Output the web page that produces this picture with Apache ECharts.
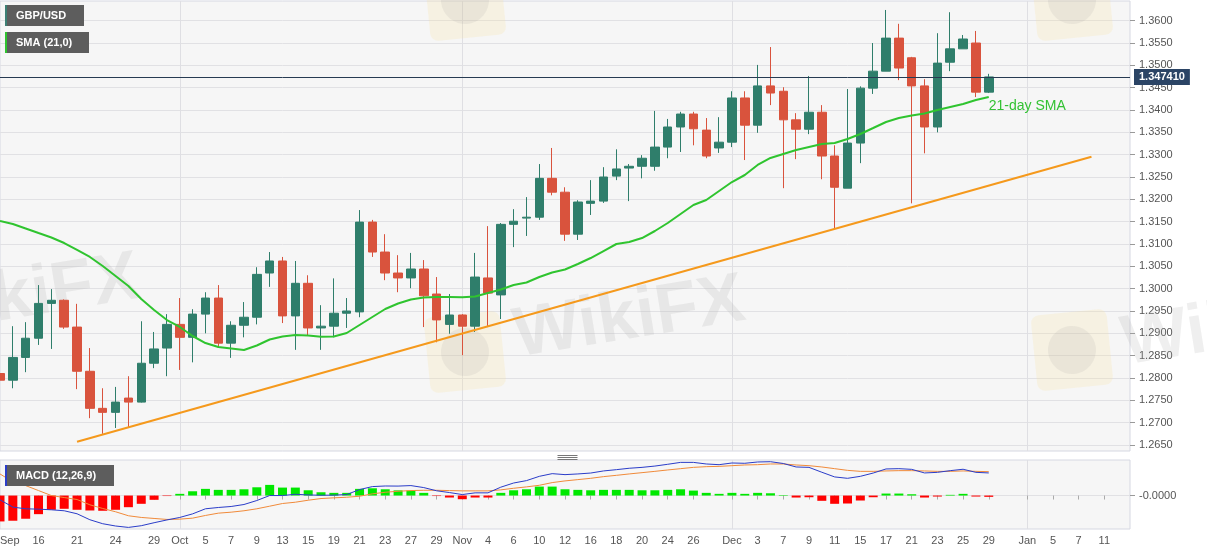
<!DOCTYPE html>
<html><head><meta charset="utf-8">
<script src="https://cdn.jsdelivr.net/npm/echarts@6/dist/echarts.min.js"></script>
<style>html,body{margin:0;padding:0;background:#fff}#c{width:1207px;height:555px}</style>
</head><body><div id="c"></div>
<script>
const dates = [
 'Sep 11','Sep 14','Sep 15','Sep 16','Sep 17','Sep 18','Sep 21','Sep 22','Sep 23','Sep 24','Sep 25','Sep 28','Sep 29','Sep 30',
 'Oct 1','Oct 2','Oct 5','Oct 6','Oct 7','Oct 8','Oct 9','Oct 12','Oct 13','Oct 14','Oct 15','Oct 16','Oct 19','Oct 20','Oct 21','Oct 22','Oct 23','Oct 26','Oct 27','Oct 28','Oct 29','Oct 30',
 'Nov 2','Nov 3','Nov 4','Nov 5','Nov 6','Nov 9','Nov 10','Nov 11','Nov 12','Nov 13','Nov 16','Nov 17','Nov 18','Nov 19','Nov 20','Nov 23','Nov 24','Nov 25','Nov 26','Nov 27','Nov 30',
 'Dec 1','Dec 2','Dec 3','Dec 4','Dec 7','Dec 8','Dec 9','Dec 10','Dec 11','Dec 14','Dec 15','Dec 16','Dec 17','Dec 18','Dec 21','Dec 22','Dec 23','Dec 24','Dec 25','Dec 28','Dec 29','Dec 30','Dec 31',
 'Jan 1','Jan 4','Jan 5','Jan 6','Jan 7','Jan 8','Jan 11','Jan 12','Jan 13'
];
const tickDates = ['Sep 11','Sep 16','Sep 21','Sep 24','Sep 29','Oct 1','Oct 5','Oct 7','Oct 9','Oct 13','Oct 15','Oct 19','Oct 21','Oct 23','Oct 27','Oct 29','Nov 2','Nov 4','Nov 6','Nov 10','Nov 12','Nov 16','Nov 18','Nov 20','Nov 24','Nov 26','Dec 1','Dec 3','Dec 7','Dec 9','Dec 11','Dec 15','Dec 17','Dec 21','Dec 23','Dec 25','Dec 29','Jan 1','Jan 5','Jan 7','Jan 11'];
const tickTexts = ['Sep','16','21','24','29','Oct','5','7','9','13','15','19','21','23','27','29','Nov','4','6','10','12','16','18','20','24','26','Dec','3','7','9','11','15','17','21','23','25','29','Jan','5','7','11'];
const monthStarts = ['Oct 1','Nov 2','Dec 1','Jan 1'];
const priceTicks = [1.2650,1.2700,1.2750,1.2800,1.2850,1.2900,1.2950,1.3000,1.3050,1.3100,1.3150,1.3200,1.3250,1.3300,1.3350,1.3400,1.3450,1.3500,1.3550,1.3600];
const macdTicks = [0];
const macdTickText = ['-0.0000'];

const opens = [1.2810,1.2795,1.2846,1.2889,1.2967,1.2974,1.2914,1.2815,1.2732,1.2723,
 1.2755,1.2746,1.2833,1.2867,1.2920,1.2891,1.2943,1.2979,1.2878,1.2918,
 1.2936,1.3035,1.3062,1.2939,1.3012,1.2912,1.2916,1.2945,1.2948,1.3149,
 1.3082,1.3035,1.3024,1.3044,1.2988,1.2920,1.2941,1.2916,1.3024,1.2986,
 1.3144,1.3158,1.3160,1.3247,1.3216,1.3122,1.3191,1.3196,1.3252,1.3270,
 1.3274,1.3274,1.3317,1.3362,1.3391,1.3355,1.3315,1.3328,1.3427,1.3366,
 1.3454,1.3442,1.3378,1.3357,1.3395,1.3297,1.3225,1.3326,1.3449,1.3487,
 1.3561,1.3517,1.3454,1.3362,1.3507,1.3537,1.3550,1.3440];
const highs = [1.2867,1.2916,1.2925,1.3008,1.2999,1.2976,1.2966,1.2867,1.2777,1.2780,
 1.2804,1.2927,1.2903,1.2943,1.2979,1.2954,1.2992,1.3008,1.2927,1.2970,
 1.3048,1.3082,1.3071,1.3062,1.3030,1.2963,1.3023,1.2979,1.3176,1.3154,
 1.3122,1.3075,1.3080,1.3064,1.3026,1.2988,1.2943,1.3080,1.3140,1.3147,
 1.3178,1.3205,1.3279,1.3315,1.3227,1.3198,1.3243,1.3272,1.3312,1.3279,
 1.3299,1.3398,1.3380,1.3396,1.3396,1.3382,1.3384,1.3442,1.3442,1.3501,
 1.3541,1.3451,1.3393,1.3476,1.3411,1.3321,1.3447,1.3453,1.3550,1.3624,
 1.3593,1.3519,1.3469,1.3572,1.3619,1.3568,1.3577,1.3481];
const lows = [1.2790,1.2777,1.2813,1.2874,1.2865,1.2910,1.2775,1.2710,1.2675,1.2688,
 1.2690,1.2745,1.2822,1.2804,1.2818,1.2835,1.2900,1.2869,1.2845,1.2891,
 1.2920,1.3004,1.2923,1.2863,1.2896,1.2863,1.2891,1.2912,1.2936,1.3071,
 1.3019,1.2992,1.3001,1.2914,1.2880,1.2899,1.2851,1.2903,1.2914,1.2932,
 1.3093,1.3118,1.3154,1.3209,1.3107,1.3109,1.3165,1.3192,1.3243,1.3196,
 1.3247,1.3264,1.3292,1.3306,1.3321,1.3292,1.3304,1.3317,1.3288,1.3349,
 1.3411,1.3225,1.3290,1.3346,1.3245,1.3135,1.3225,1.3281,1.3436,1.3487,
 1.3467,1.3191,1.3303,1.3350,1.3487,1.3537,1.3429,1.3438];
const closes = [1.2795,1.2846,1.2889,1.2967,1.2974,1.2914,1.2815,1.2732,1.2723,1.2746,
 1.2746,1.2833,1.2865,1.2920,1.2891,1.2943,1.2979,1.2878,1.2918,1.2936,
 1.3032,1.3062,1.2939,1.3012,1.2912,1.2916,1.2945,1.2950,1.3149,1.3082,
 1.3035,1.3024,1.3044,1.2984,1.2930,1.2941,1.2916,1.3026,1.2990,1.3144,
 1.3151,1.3160,1.3247,1.3216,1.3122,1.3194,1.3196,1.3250,1.3268,1.3274,
 1.3292,1.3317,1.3362,1.3391,1.3358,1.3297,1.3328,1.3427,1.3366,1.3454,
 1.3438,1.3378,1.3357,1.3395,1.3297,1.3227,1.3326,1.3449,1.3487,1.3561,
 1.3494,1.3454,1.3362,1.3505,1.3537,1.3559,1.3440,1.34741];
const sma21 = [1.31515,1.31448,1.31347,1.31246,1.31146,1.31022,1.30866,1.30709,1.30507,1.30283,
 1.30059,1.29768,1.29522,1.29298,1.29142,1.28940,1.28783,1.28694,1.28660,1.28627,
 1.28727,1.28862,1.28929,1.28962,1.28951,1.28924,1.28929,1.29007,1.29186,1.29365,
 1.29545,1.29668,1.29757,1.29802,1.29813,1.29813,1.29806,1.29824,1.29903,1.29981,
 1.30082,1.30138,1.30261,1.30362,1.30429,1.30552,1.30686,1.30843,1.31000,1.31045,
 1.31134,1.31291,1.31470,1.31672,1.31873,1.31985,1.32187,1.32388,1.32545,1.32769,
 1.32926,1.33015,1.33105,1.33172,1.33239,1.33262,1.33351,1.33463,1.33597,1.33732,
 1.33821,1.33877,1.33922,1.34000,1.34068,1.34135,1.34224,1.34292];
const trendDates = ['Sep 21','Jan 8'];
const trendValues = [1.26573,1.32955];
const lastPrice = 1.34741;

const macdLine = [-0.00129,-0.00348,-0.00399,-0.00411,-0.00429,-0.00459,-0.00549,-0.00729,-0.00849,-0.00918,
 -0.0096,-0.00909,-0.00819,-0.00735,-0.0066,-0.00552,-0.00399,-0.0036,-0.0033,-0.0027,
 -0.0015,0,0,0.00039,0.00018,0.00009,0.00012,0.0003,0.0018,0.0027,
 0.00288,0.00285,0.003,0.0024,0.00144,0.0009,0.0003,0.00081,0.00081,0.00252,
 0.00378,0.0045,0.00579,0.0066,0.0063,0.00651,0.00678,0.00741,0.0078,0.00822,
 0.00849,0.00888,0.00942,0.00999,0.00999,0.00951,0.0093,0.00981,0.00972,0.01011,
 0.0102,0.00966,0.00861,0.00849,0.00702,0.00561,0.00519,0.00579,0.00678,0.00801,
 0.0081,0.00789,0.00681,0.00699,0.0075,0.00792,0.00699,0.00681];
const signalLine = [0.00651,0.00411,0.0030,0.0015,0,-0.0006,-0.0012,-0.00279,-0.0039,-0.00489,
 -0.00609,-0.0066,-0.0069,-0.0072,-0.00711,-0.00681,-0.006,-0.00531,-0.00501,-0.00459,
 -0.00399,-0.00321,-0.0024,-0.00201,-0.00141,-0.0009,-0.00069,-0.00051,-0.00021,0.00051,
 0.00099,0.00129,0.0015,0.00159,0.00159,0.0015,0.00141,0.00141,0.00141,0.00171,
 0.00219,0.00261,0.00309,0.0039,0.00441,0.0048,0.00519,0.0057,0.00609,0.00651,
 0.0069,0.00729,0.00771,0.0081,0.00849,0.0087,0.00879,0.009,0.00921,0.0093,
 0.00951,0.00951,0.00921,0.009,0.00861,0.0081,0.00759,0.00729,0.00729,0.00741,
 0.0075,0.0075,0.00741,0.00729,0.00729,0.00741,0.00729,0.0072];
const macdHist = [-0.0078,-0.00759,-0.00699,-0.00561,-0.00429,-0.00399,-0.00429,-0.0045,-0.00459,-0.00429,
 -0.00351,-0.00249,-0.00129,-0.00015,0.00051,0.00129,0.00201,0.00171,0.00171,0.00189,
 0.00249,0.00321,0.0024,0.0024,0.00159,0.00099,0.00081,0.00081,0.00201,0.00219,
 0.00189,0.00156,0.0015,0.00081,-0.00015,-0.0006,-0.00111,-0.0006,-0.0006,0.00081,
 0.00159,0.00189,0.0027,0.0027,0.00189,0.00171,0.00159,0.00171,0.00171,0.00171,
 0.00159,0.00159,0.00171,0.00189,0.0015,0.00081,0.00051,0.00081,0.00051,0.00081,
 0.00069,0.00015,-0.0006,-0.00051,-0.00159,-0.00249,-0.0024,-0.0015,-0.00051,0.0006,
 0.0006,0.00039,-0.0006,-0.0003,0.00021,0.00051,-0.0003,-0.00039];

const chart = echarts.init(document.getElementById('c'), null, {renderer:'canvas'});
const candleData = opens.map((o, i) => [o, closes[i], lows[i], highs[i]]);
const tickMap = new Map(tickDates.map((d, i) => [d, tickTexts[i]]));
const trendData = trendDates.map((d, i) => [d, trendValues[i]]);
const FONT = 'Liberation Sans, Arial, sans-serif';
const UP = '#2f7e6b', DOWN = '#d9533d';

function legendBox(top, w, strip, text) {
  return {type:'group', left:5, top:top, z:100, silent:true, children:[
    {type:'rect', shape:{x:0,y:0,width:w,height:21}, style:{fill:'#5d5d5d'}, z:100},
    {type:'rect', shape:{x:0,y:0,width:2,height:21}, style:{fill:strip}, z:101},
    {type:'text', x:11, y:11, z:101, style:{text:text, fill:'#ffffff', font:'bold 11px ' + FONT, textVerticalAlign:'middle'}}
  ]};
}
function wmText(x, y) {
  return {type:'text', x:x, y:y, rotation:0.16, z:1, silent:true,
    style:{text:'WikiFX', fill:'rgba(175,175,175,0.20)', font:'bold 70px ' + FONT, textVerticalAlign:'bottom'}};
}
function wmLogo(x, y) {
  return {type:'group', x:x, y:y, rotation:0.1, z:1, silent:true, children:[
    {type:'rect', shape:{x:-38,y:-38,width:76,height:76,r:8}, style:{fill:'rgba(250,226,150,0.20)'}, z:1},
    {type:'circle', shape:{cx:0,cy:0,r:24}, style:{fill:'rgba(150,150,150,0.12)'}, z:1}
  ]};
}

const option = {
  animation:false,
  backgroundColor:'#ffffff',
  textStyle:{fontFamily:FONT},
  grid:[
    {left:0, right:77, top:1, height:450, show:true, backgroundColor:'#f6f6f6', borderColor:'#d6d8e2', borderWidth:1, containLabel:false, outerBoundsMode:'none'},
    {left:0, right:77, top:460, height:69, show:true, backgroundColor:'#f6f6f6', borderColor:'#d6d8e2', borderWidth:1, containLabel:false, outerBoundsMode:'none'}
  ],
  xAxis:[
    {type:'category', gridIndex:0, data:dates, boundaryGap:false,
     axisLine:{show:false}, axisTick:{show:false}, axisLabel:{show:false},
     splitLine:{show:true, interval:(i, v) => monthStarts.includes(v), lineStyle:{color:'#dfdfe3', width:1}}},
    {type:'category', gridIndex:1, data:dates, boundaryGap:false,
     axisLine:{show:false},
     axisTick:{show:true, interval:(i, v) => tickMap.has(v), length:4, lineStyle:{color:'#aaaaaa'}},
     axisLabel:{show:true, interval:(i, v) => tickMap.has(v), formatter:(v) => tickMap.get(v) || '',
       color:'#555555', fontSize:11, margin:6, alignMinLabel:'left', hideOverlap:false, fontFamily:FONT},
     splitLine:{show:true, interval:(i, v) => monthStarts.includes(v), lineStyle:{color:'#dfdfe3', width:1}}}
  ],
  yAxis:[
    {type:'value', gridIndex:0, position:'right', min:1.26365, max:1.36441,
     axisLine:{show:false},
     axisTick:{show:true, customValues:priceTicks, length:5, lineStyle:{color:'#999999'}},
     axisLabel:{show:true, customValues:priceTicks, formatter:(v) => v.toFixed(4), color:'#555555', fontSize:11, margin:9, fontFamily:FONT, hideOverlap:false},
     splitLine:{show:true, lineStyle:{color:'#e1e1e4', width:1}}},
    {type:'value', gridIndex:1, position:'right', min:-0.01008, max:0.01071,
     axisLine:{show:false},
     axisTick:{show:true, customValues:macdTicks, length:5, lineStyle:{color:'#999999'}},
     axisLabel:{show:true, customValues:macdTicks, formatter:(v) => macdTickText[macdTicks.indexOf(v)] || '', color:'#555555', fontSize:11, margin:9, fontFamily:FONT},
     splitLine:{show:true, lineStyle:{color:'#e1e1e4', width:1}}}
  ],
  series:[
    {type:'candlestick', name:'GBP/USD', xAxisIndex:0, yAxisIndex:0, data:candleData, barWidth:9, z:3,
     itemStyle:{color:UP, color0:DOWN, borderColor:UP, borderColor0:DOWN, borderWidth:1}},
    {type:'line', name:'SMA (21,0)', xAxisIndex:0, yAxisIndex:0, data:sma21, symbol:'none', z:5,
     lineStyle:{color:'#2fc42f', width:2}, itemStyle:{color:'#2fc42f'},
     endLabel:{show:true, formatter:'21-day SMA', color:'#33c233', fontSize:14, distance:0, offset:[0,9], fontFamily:FONT}},
    {type:'line', name:'trend', xAxisIndex:0, yAxisIndex:0, data:trendData, symbol:'none', z:5,
     lineStyle:{color:'#f5991c', width:2}, itemStyle:{color:'#f5991c'},
     markLine:{symbol:['none','none'], silent:true, animation:false, z:4, precision:6,
       data:[{yAxis:lastPrice}],
       lineStyle:{color:'#273b52', width:1, type:'solid'},
       label:{show:true, position:'end', formatter:() => lastPrice.toFixed(6), color:'#ffffff', backgroundColor:'#2b4465',
         fontWeight:'bold', fontSize:11, padding:[3,5,2,5], distance:4, fontFamily:FONT}}},
    {type:'bar', name:'hist', xAxisIndex:1, yAxisIndex:1, data:macdHist, barWidth:9, z:3,
     itemStyle:{color:(p) => p.value >= 0 ? '#00e800' : '#ff0000'}},
    {type:'line', name:'MACD', xAxisIndex:1, yAxisIndex:1, data:macdLine, symbol:'none', z:5,
     lineStyle:{color:'#2a3cc8', width:1}, itemStyle:{color:'#2a3cc8'}},
    {type:'line', name:'signal', xAxisIndex:1, yAxisIndex:1, data:signalLine, symbol:'none', z:4,
     lineStyle:{color:'#f08a3a', width:1}, itemStyle:{color:'#f08a3a'}}
  ],
  graphic:[
    wmText(-85, 350), wmText(520, 372), wmText(1128, 380),
    wmLogo(465, 352), wmLogo(1072, 350), wmLogo(465, 0), wmLogo(1072, 0),
    legendBox(5, 79, '#3c7f74', 'GBP/USD'),
    legendBox(32, 84, '#2fc42f', 'SMA (21,0)'),
    legendBox(465, 109, '#2a3cc8', 'MACD (12,26,9)'),
    {type:'group', left:555, top:453, z:100, silent:true, children:[
      {type:'line', shape:{x1:0,y1:0.5,x2:20,y2:0.5}, style:{stroke:'#777',lineWidth:1}},
      {type:'line', shape:{x1:0,y1:2.5,x2:20,y2:2.5}, style:{stroke:'#777',lineWidth:1}},
      {type:'line', shape:{x1:0,y1:4.5,x2:20,y2:4.5}, style:{stroke:'#777',lineWidth:1}}
    ]}
  ]
};
chart.setOption(option);
</script>
</body></html>
